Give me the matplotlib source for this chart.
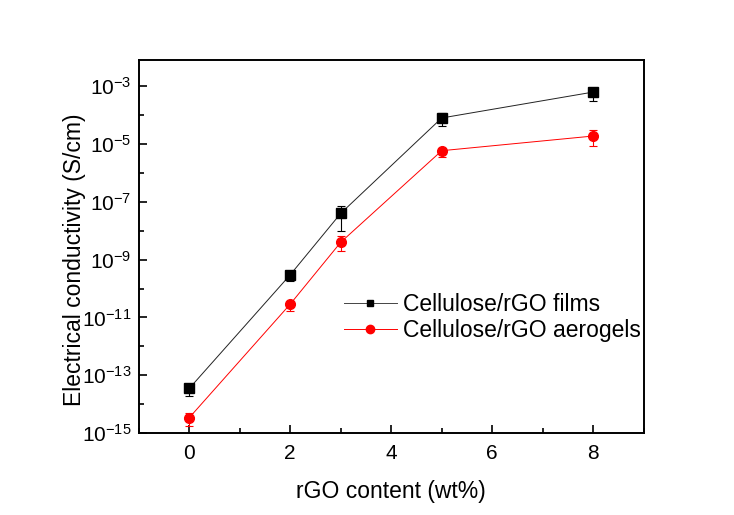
import matplotlib.pyplot as plt
import numpy as np
from matplotlib.ticker import FixedLocator, LogFormatterMathtext, NullFormatter
from matplotlib.lines import Line2D

plt.rcParams['font.family'] = ['Liberation Sans', 'DejaVu Sans']
plt.rcParams['mathtext.fontset'] = 'custom'
plt.rcParams['mathtext.rm'] = 'Liberation Sans'
plt.rcParams['mathtext.it'] = 'Liberation Sans'
plt.rcParams['axes.unicode_minus'] = False

# --- Data ---
rgo_content = [0, 2, 3, 5, 8]

films = [3.5e-14, 3.0e-10, 4.0e-8, 8.0e-5, 6.3e-4]
films_low = [2.0e-14, 1.8e-10, 9.5e-9, 4.1e-5, 3.2e-4]
films_high = [4.5e-14, 3.6e-10, 7.4e-8, 1.17e-4, 7.5e-4]

aerogels = [3.4e-15, 2.9e-11, 4.0e-9, 5.9e-6, 1.9e-5]
aerogels_low = [1.8e-15, 1.7e-11, 1.95e-9, 3.7e-6, 8.3e-6]
aerogels_high = [5.0e-15, 3.5e-11, 6.5e-9, 7.5e-6, 2.95e-5]

x_ticks = [0, 2, 4, 6, 8]
y_ticks = [1e-15, 1e-13, 1e-11, 1e-9, 1e-7, 1e-5, 1e-3]
labels = ['Cellulose/rGO films', 'Cellulose/rGO aerogels']

# --- Figure ---
fig = plt.figure(figsize=(7.34, 5.15), dpi=100)
ax = fig.add_axes([0.189, 0.159, 0.688, 0.724])


def err(vals, lo, hi):
    v = np.array(vals)
    return [v - np.array(lo), np.array(hi) - v]


ax.errorbar(rgo_content, films, yerr=err(films, films_low, films_high),
            color='#222222', mfc='black', mec='black', ecolor='black',
            lw=0.7, marker='s', ms=6.5, capsize=3,
            elinewidth=0.8, capthick=0.8)
ax.errorbar(rgo_content, aerogels, yerr=err(aerogels, aerogels_low, aerogels_high),
            color='red', lw=0.7, marker='o', ms=7, capsize=3,
            elinewidth=0.8, capthick=0.8)

ax.set_yscale('log')
ax.set_xlim(-1, 9)
ax.set_ylim(1e-15, 10 ** -2.1)

ax.set_xticks(x_ticks)
ax.xaxis.set_minor_locator(FixedLocator([-1, 1, 3, 5, 7, 9]))
ax.yaxis.set_major_locator(FixedLocator(y_ticks))
ax.yaxis.set_minor_locator(FixedLocator([10.0 ** e for e in range(-14, -1, 2)]))
ax.yaxis.set_major_formatter(LogFormatterMathtext())
ax.yaxis.set_minor_formatter(NullFormatter())

ax.tick_params(which='both', direction='in', top=False, right=False, labelsize=15, width=1.2)
ax.tick_params(which='major', length=6)
ax.tick_params(which='minor', length=3.5)
ax.tick_params(axis='x', pad=8)
ax.tick_params(axis='y', pad=5)
for s in ax.spines.values():
    s.set_linewidth(1.4)

ax.set_xlabel('rGO content (wt%)', fontsize=16.5, labelpad=12)
ax.set_ylabel('Electrical conductivity (S/cm)', fontsize=16.5)
ax.yaxis.set_label_coords(-0.105, 0.464)

handles = [
    Line2D([], [], color='#444444', lw=0.7, marker='s', ms=5, mfc='black', mec='black'),
    Line2D([], [], color='red', lw=0.7, marker='o', ms=6),
]
ax.legend(handles, labels, loc='center right', bbox_to_anchor=(1.018, 0.31),
          frameon=False, fontsize=16.5, handlelength=2.3, handletextpad=0.3,
          labelspacing=0.15, borderaxespad=0.1)

fig.savefig('out.png', dpi=100)
